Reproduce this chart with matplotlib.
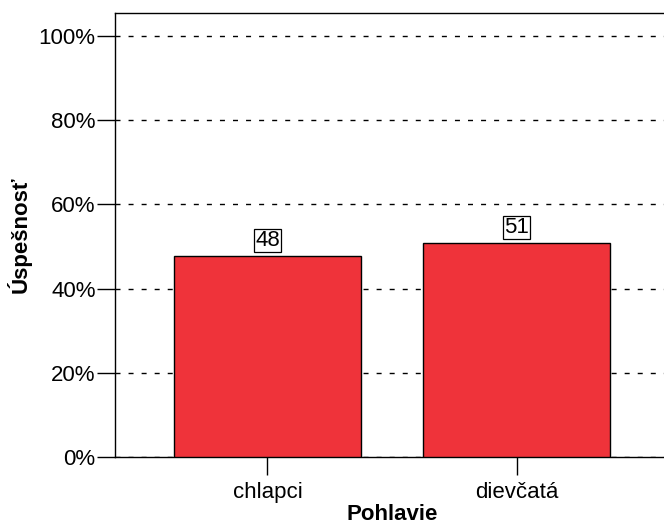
import matplotlib
matplotlib.use('Agg')
from matplotlib import pyplot as plt
from matplotlib.ticker import PercentFormatter

categories = ['chlapci', 'dievčatá']
values = [47.7, 50.8]
labels = ['48', '51']
yticks = [0, 20, 40, 60, 80, 100]

plt.rcParams['font.family'] = ['Liberation Sans', 'DejaVu Sans']

fig = plt.figure(figsize=(6.64, 5.31), dpi=100)
ax = fig.add_axes([115 / 664, 74 / 531, 554 / 664, 444 / 531])

x = list(range(len(categories)))
ax.bar(x, values, width=0.75, color='#EF333A', edgecolor='black', linewidth=1, zorder=3)

for xi, v, lab in zip(x, values, labels):
    ax.text(xi, v + 1.3, lab, ha='center', va='bottom', fontsize=16,
            bbox=dict(boxstyle='square,pad=0.05', facecolor='white', edgecolor='black', linewidth=0.9),
            zorder=4)

ax.set_xlim(-0.612, 1.612)
ax.set_ylim(0, 105.5)
ax.set_xticks(x)
ax.set_xticklabels(categories, fontsize=16)
ax.set_yticks(yticks)
ax.yaxis.set_major_formatter(PercentFormatter(decimals=0))
ax.tick_params(axis='y', length=13, width=1, labelsize=16, pad=1)
ax.tick_params(axis='x', length=13, width=1, labelsize=16, pad=5)
ax.yaxis.grid(True, linestyle=(0, (3.6, 5.8)), color='black', linewidth=1, zorder=0)
ax.spines['right'].set_visible(False)
for s in ['left', 'top', 'bottom']:
    ax.spines[s].set_linewidth(1)

ax.set_xlabel('Pohlavie', fontsize=16, fontweight='bold', labelpad=1)
ax.set_ylabel('Úspešnosť', fontsize=16, fontweight='bold')
ax.yaxis.set_label_coords(-0.150, 0.5)

fig.savefig('out.png', dpi=100)
